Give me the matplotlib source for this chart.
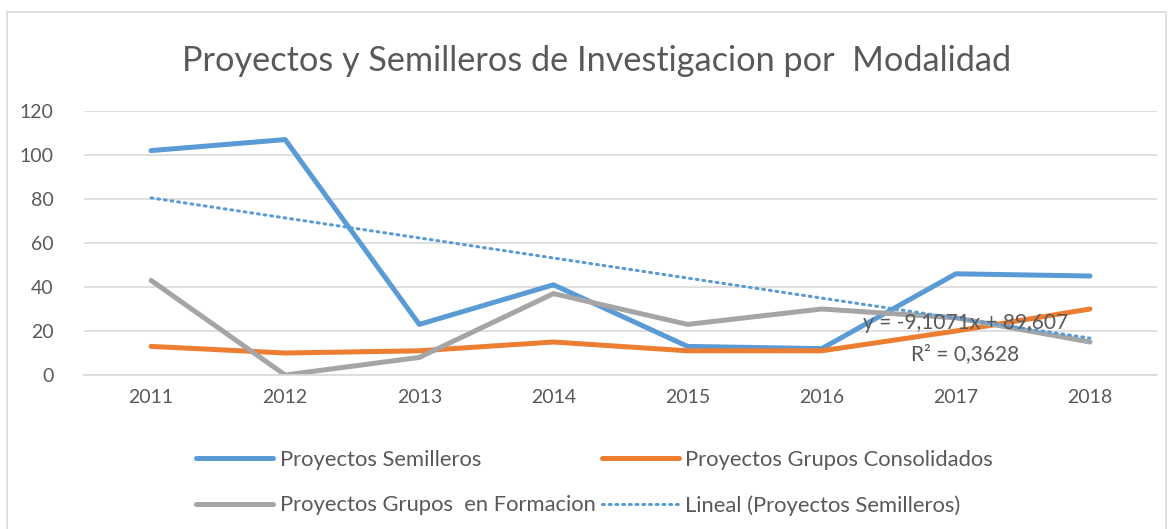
import numpy as np
import matplotlib
matplotlib.use("Agg")
import matplotlib.pyplot as plt
from matplotlib.patches import Rectangle

years = ["2011", "2012", "2013", "2014", "2015", "2016", "2017", "2018"]
semilleros = [102, 107, 23, 41, 13, 12, 46, 45]
consolidados = [13, 10, 11, 15, 11, 11, 20, 30]
formacion = [43, 0, 8, 37, 23, 30, 26, 15]

plt.rcParams["font.family"] = ["Lato", "DejaVu Sans"]
txt = "#595959"

fig = plt.figure(figsize=(11.73, 5.29), dpi=100)
fig.patches.append(Rectangle((0.006, -0.01), 0.988, 0.987, transform=fig.transFigure,
                             fill=False, edgecolor="#D9D9D9", linewidth=1.2))
ax = fig.add_axes([0.0716, 0.2911, 0.9148, 0.4991])

x = np.arange(len(years))
l1, = ax.plot(x, semilleros, color="#5B9BD5", lw=3.6, solid_capstyle="round",
              label="Proyectos Semilleros")
l2, = ax.plot(x, consolidados, color="#ED7D31", lw=3.6, solid_capstyle="round",
              label="Proyectos Grupos Consolidados")
l3, = ax.plot(x, formacion, color="#A5A5A5", lw=3.6, solid_capstyle="round",
              label="Proyectos Grupos  en Formacion")

# linear trend on x = 1..8 like Excel
coef = np.polyfit(x + 1, semilleros, 1)
trend = np.polyval(coef, x + 1)
l4, = ax.plot(x, trend, color="#5B9BD5", lw=2.2, linestyle=(0, (0.6, 1.6)),
              dash_capstyle="round", label="Lineal (Proyectos Semilleros)")
ax.text(6.07, 23.5, "y = -9,1071x + 89,607", color=txt, fontsize=15, ha="center", va="center")
ax.text(6.07, 9.5, "R² = 0,3628", color=txt, fontsize=15, ha="center", va="center")

ax.set_xlim(-0.5, 7.5)
ax.set_ylim(0, 120)
ax.set_yticks(range(0, 121, 20))
ax.set_xticks(x)
ax.set_xticklabels(years)
ax.grid(axis="y", color="#D9D9D9", lw=1.2)
ax.set_axisbelow(True)
for s in ["top", "right", "left"]:
    ax.spines[s].set_visible(False)
ax.spines["bottom"].set_color("#D9D9D9")
ax.spines["bottom"].set_linewidth(1.2)
ax.tick_params(length=0, labelsize=14, labelcolor=txt, pad=10)
ax.tick_params(axis="y", pad=22)

fig.text(0.509, 0.885, "Proyectos y Semilleros de Investigacion por  Modalidad",
         ha="center", va="center", fontsize=24.7, color=txt)

# column-wise fill, so order gives rows: Semilleros|Consolidados, Formacion|Lineal
fig.legend(handles=[l1, l3, l2, l4], loc="center", bbox_to_anchor=(0.507, 0.087), ncol=2,
           frameon=False, fontsize=15.8, labelcolor=txt, handlelength=3.5,
           handletextpad=0.3, columnspacing=0.3, labelspacing=1.15)

fig.savefig("out.png", dpi=100)
